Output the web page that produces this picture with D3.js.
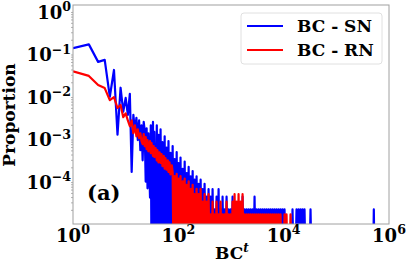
<!DOCTYPE html>
<html><head><meta charset="utf-8">
<script src="https://cdn.jsdelivr.net/npm/d3@7"></script>
<style>body{margin:0;background:#fff}svg{display:block}text{font-family:"DejaVu Serif",serif;font-weight:bold;fill:#000}</style>
</head><body><svg id="c" width="407" height="262"></svg>
<script>
// BC value (x) shared by both series
const bc = [1,2,3,4,5,6,7,8,9,10,11,12,13,14,15,16,17,18,19,20,
21,22,23,24,25,26,27,29,30,31,
33,34,35,37,39,40,42,44,46,48,
50,53,55,57,60,63,65,68,71,75,
78,81,85,89,93,97,101,106,110,115,
121,126,132,137,144,150,157,164,171,179,
187,195,204,213,222,232,242,253,265,276,
289,302,315,329,344,359,375,392,410,428,
447,467,488,510,532,556,581,607,634,662,
692,723,755,789,824,861,899,939,981,1025,
1071,1119,1169,1221,1275,1332,1392,1454,1519,1587,
1658,1732,1809,1890,1974,2062,2154,2250,2351,2456,
2566,2680,2800,2925,3056,3192,3335,3484,3639,3802,
3972,4149,4334,4528,4730,4941,5162,5393,5633,5885,
6148,6422,6709,7009,7322,7649,7990,8347,8720,9109,
9516,9941,10385,10849,11333,11839,12368,12920,13497,14100,
14730,15388,16075,16793,17543,18326,19145,20000,20893,21826,
22801,23819,24883,25994,27155,28368,29635,30958,32341,33785,
40000,500000,515000,530000];

const snProp = [0.13,0.16,0.062,0.069,0.0094,0.040,0.0012,0.0153,0.0042,0.0088,
0.0035,0.011,1.6e-4,0.0035,0.0015,0.003,9e-4,0.0026,5.2e-4,0.002,
3.0e-4,2.4e-3,1.5e-3,9.5e-5,1.7e-3,6.6e-5,1.3e-3,4.0e-5,2.0e-3,0,
2.4e-3,0,1.4e-3,0,2.0e-3,0,1.2e-3,0,1.6e-3,0,
8e-4,0,1.1e-3,0,6e-4,0,8.5e-4,0,4.5e-4,0,
6.5e-4,0,3.2e-4,0,4.7e-4,0,2.6e-4,0,3.5e-4,0,
1.9e-4,0,2.8e-4,0,1.5e-4,0,2.1e-4,0,1.26e-4,0,
1.68e-4,0,1.05e-4,0,1.26e-4,0,8.4e-5,0,1.05e-4,0,
6.3e-5,0,8.4e-5,0,4.2e-5,0,6.3e-5,0,4.2e-5,0,
6.3e-5,0,2.1e-5,0,4.2e-5,0,6.3e-5,0,2.1e-5,0,
4.2e-5,0,2.1e-5,0,4.2e-5,0,2.1e-5,0,2.1e-5,0,
4.2e-5,0,2.1e-5,0,2.1e-5,0,2.1e-5,0,2.1e-5,0,
4.2e-5,0,2.1e-5,0,2.1e-5,0,2.1e-5,0,2.1e-5,0,
2.1e-5,0,4.2e-5,0,2.1e-5,0,2.1e-5,0,2.1e-5,0,
2.1e-5,0,2.1e-5,0,2.1e-5,0,2.1e-5,0,2.1e-5,0,
2.1e-5,0,2.1e-5,0,2.1e-5,0,2.1e-5,0,2.1e-5,0,
2.1e-5,0,2.1e-5,0,0,0,0,0,0,0,
2.1e-5,0,0,0,2.1e-5,0,2.1e-5,0,2.1e-5,0,
2.1e-5,0,2.1e-5,0,0,0,0,0,2.1e-5,0,
0,0,2.1e-5,0];

const rnProp = [0.037,0.029,0.0177,0.015,0.0078,0.0092,0.0051,0.006,0.0031,0.0038,
0.0026,0.0019,0.0026,0.0013,0.0020,0.0011,0.0016,0.001,0.0013,8.5e-4,
7.2e-4,1.24e-3,6.5e-4,1.06e-3,5.5e-4,9e-4,4.9e-4,8.5e-4,4.4e-4,7.6e-4,
3.8e-4,6.5e-4,3.6e-4,5.8e-4,3.0e-4,5.2e-4,2.7e-4,4.6e-4,2.6e-4,4.2e-4,
2.2e-4,3.8e-4,1.9e-4,3.4e-4,1.8e-4,3.0e-4,1.6e-4,2.7e-4,1.4e-4,2.3e-4,
1.6e-4,0,1.28e-4,0,1.44e-4,0,1.12e-4,0,1.28e-4,0,
9.6e-5,0,1.12e-4,0,8.0e-5,0,9.6e-5,0,6.4e-5,0,
8.0e-5,0,4.8e-5,0,6.4e-5,0,4.8e-5,0,6.4e-5,0,
3.2e-5,0,4.8e-5,0,3.2e-5,0,4.8e-5,0,1.6e-5,0,
3.2e-5,0,1.6e-5,0,3.2e-5,0,1.6e-5,0,3.2e-5,0,
1.6e-5,0,1.6e-5,0,3.2e-5,0,1.6e-5,0,1.6e-5,0,
3.2e-5,0,4.8e-5,0,3.2e-5,0,4.8e-5,0,3.2e-5,0,
4.8e-5,0,1.6e-5,0,1.6e-5,0,1.6e-5,0,1.6e-5,0,
1.6e-5,0,1.6e-5,0,1.6e-5,0,1.6e-5,0,1.6e-5,0,
1.6e-5,0,1.6e-5,0,1.6e-5,0,1.6e-5,0,1.6e-5,0,
1.6e-5,0,1.6e-5,0,1.6e-5,0,1.6e-5,0,1.6e-5,0,
0,0,1.6e-5,0,1.6e-5,0,0,0,1.6e-5,0,
0,0,0,0,0,0,0,0,0,0,
0,0,0,0,0,0,0,0,0,0,
0,0,0,0];

const seriesNames = ["BC - SN", "BC - RN"];
const seriesColors = ["#0000ff", "#ff0000"];
const xTickExps = [0, 2, 4, 6];
const yTickExps = [0, -1, -2, -3, -4];

const L = 73, R = 389, T = 5, B = 224;
const svg = d3.select("#c");
const x = d3.scaleLog().domain([1, 1e6]).range([L, R]);
const y = d3.scaleLog().domain([Math.pow(10, -5.02), Math.pow(10, 0.13)]).range([B, T]);

svg.append("defs").append("clipPath").attr("id", "clip")
  .append("rect").attr("x", L).attr("y", T).attr("width", R - L).attr("height", B - T);

const line = d3.line()
  .x(d => x(d[0]))
  .y(d => d[1] > 0 ? y(d[1]) : B + 40);

const g = svg.append("g").attr("clip-path", "url(#clip)");
[snProp, rnProp].forEach((vals, si) => {
  const pts = bc.map((v, i) => [v, vals[i] || 0]);
  g.append("path").datum(pts).attr("d", line)
    .attr("fill", "none").attr("stroke", seriesColors[si])
    .attr("stroke-width", 2.2).attr("stroke-linejoin", "round");
});

// frame
svg.append("rect").attr("x", L).attr("y", T).attr("width", R - L).attr("height", B - T)
  .attr("fill", "none").attr("stroke", "#a0a0a0").attr("stroke-width", 1);

// minor y ticks
const minors = [];
for (let e = -5; e <= 0; e++) for (let j = 2; j <= 9; j++) {
  const v = j * Math.pow(10, e);
  if (v > y.domain()[0] && v < y.domain()[1]) minors.push(v);
}
svg.selectAll(".mt").data(minors).enter().append("line")
  .attr("x1", L - 2).attr("x2", L).attr("y1", d => y(d)).attr("y2", d => y(d))
  .attr("stroke", "#a0a0a0").attr("stroke-width", 0.8);

function sup(e) { return (e < 0 ? "\u2212" + (-e) : "" + e); }

// y tick labels
yTickExps.forEach(e => {
  const t = svg.append("text").attr("x", L - 2).attr("y", y(Math.pow(10, e)) + 8)
    .attr("text-anchor", "end").attr("font-size", 18);
  t.append("tspan").text("10");
  t.append("tspan").attr("font-size", 12.6).attr("dy", -7.5).text(sup(e));
});
// x tick labels
xTickExps.forEach(e => {
  const t = svg.append("text").attr("x", x(Math.pow(10, e))).attr("y", 241.5)
    .attr("text-anchor", "middle").attr("font-size", 18);
  t.append("tspan").text("10");
  t.append("tspan").attr("font-size", 12.6).attr("dy", -7.5).text(sup(e));
});

// axis labels
svg.append("text").attr("transform", "translate(15,115) rotate(-90)")
  .attr("text-anchor", "middle").attr("font-size", 17).text("Proportion");
const xl = svg.append("text").attr("x", 232).attr("y", 258.5)
  .attr("text-anchor", "middle").attr("font-size", 17);
xl.append("tspan").text("BC");
xl.append("tspan").attr("font-size", 12).attr("font-style", "italic").attr("dy", -7).text("t");

// panel label
svg.append("text").attr("x", 87).attr("y", 200).attr("font-size", 21).text("(a)");

// legend
const lg = svg.append("g");
lg.append("rect").attr("x", 241).attr("y", 13).attr("width", 141).attr("height", 51).attr("rx", 3)
  .attr("fill", "#fff").attr("fill-opacity", 0.85).attr("stroke", "#e0e0e0");
seriesNames.forEach((n, i) => {
  const yy = 26 + i * 24;
  lg.append("line").attr("x1", 247).attr("x2", 283).attr("y1", yy).attr("y2", yy)
    .attr("stroke", seriesColors[i]).attr("stroke-width", 2.2);
  lg.append("text").attr("x", 297).attr("y", yy + 5.5).attr("font-size", 17).text(n);
});
</script></body></html>
